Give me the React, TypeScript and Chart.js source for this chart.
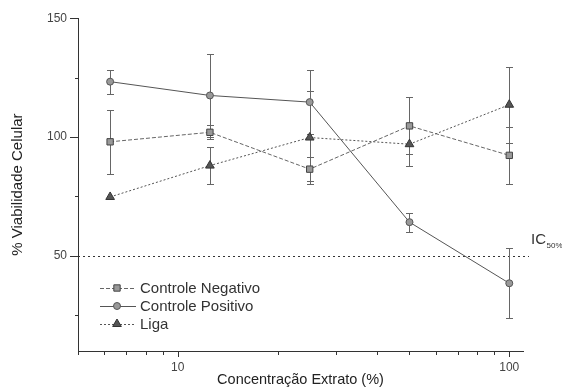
import React, { useEffect, useRef } from "react";
import { Chart, registerables } from "chart.js";
import { drawPoint } from "chart.js/helpers";
Chart.register(...registerables);

const concentrations = [6.25, 12.5, 25, 50, 100];
const negativoValues = [98, 102, 86.5, 104.7, 92.3];
const negativoErrors = [13.5, 3, 5, 12, 12];
const positivoValues = [123.3, 117.5, 114.7, 64.2, 38.5];
const positivoErrors = [5, 17.5, 13.6, 4, 14.7];
const ligaValues = [74.8, 88, 99.8, 97, 113.6];
const ligaErrors = [0, 7.7, 19.5, 9, 16];
const seriesNames = ["Controle Negativo", "Controle Positivo", "Liga"];
const xTickValues = [5, 6, 7, 8, 9, 10, 20, 30, 40, 50, 60, 70, 80, 90, 100];
const xTickLabels = [10, 100];
const yTickValues = [25, 50, 75, 100, 125, 150];
const yTickLabels = [50, 100, 150];
const ic50Value = 50;

const FONT = "'Liberation Sans', Arial, sans-serif";

const toPoints = (vals: number[]) => vals.map((v, i) => ({ x: concentrations[i], y: v }));

const customPlugin = {
  id: "customDecor",
  beforeDatasetsDraw(chart: any) {
    const { ctx, chartArea, scales } = chart;
    const x = scales.x, y = scales.y;
    ctx.save();
    ctx.strokeStyle = "#333";
    ctx.lineWidth = 1;
    ctx.setLineDash([2, 3]);
    const yy = Math.round(y.getPixelForValue(ic50Value)) + 0.5;
    ctx.beginPath();
    ctx.moveTo(chartArea.left, yy);
    ctx.lineTo(chartArea.right + 6, yy);
    ctx.stroke();
    ctx.setLineDash([]);
    chart.data.datasets.forEach((ds: any) => {
      const errs: number[] = ds.errors;
      ds.data.forEach((p: any, j: number) => {
        const e = errs[j];
        if (!e) return;
        const px = Math.round(x.getPixelForValue(p.x)) + 0.5;
        const top = Math.round(y.getPixelForValue(p.y + e)) + 0.5;
        const bot = Math.round(y.getPixelForValue(p.y - e)) + 0.5;
        ctx.strokeStyle = "#666";
        ctx.lineWidth = 1;
        ctx.beginPath();
        ctx.moveTo(px, top);
        ctx.lineTo(px, bot);
        ctx.moveTo(px - 3.5, top);
        ctx.lineTo(px + 3.5, top);
        ctx.moveTo(px - 3.5, bot);
        ctx.lineTo(px + 3.5, bot);
        ctx.stroke();
      });
    });
    ctx.restore();
  },
  afterDraw(chart: any) {
    const { ctx, chartArea, scales } = chart;
    const x = scales.x, y = scales.y;
    ctx.save();
    ctx.strokeStyle = "#333";
    ctx.lineWidth = 1;
    ctx.beginPath();
    xTickValues.forEach((v) => {
      const px = Math.round(x.getPixelForValue(v)) + 0.5;
      const len = xTickLabels.includes(v) ? 6 : 4;
      ctx.moveTo(px, chartArea.bottom);
      ctx.lineTo(px, chartArea.bottom + len);
    });
    yTickValues.forEach((v) => {
      const py = Math.round(y.getPixelForValue(v)) + 0.5;
      const len = yTickLabels.includes(v) ? 8 : 3;
      ctx.moveTo(chartArea.left, py);
      ctx.lineTo(chartArea.left - len, py);
    });
    ctx.stroke();

    // legend
    const lx = chartArea.left + 22;
    const ly0 = chartArea.bottom - 63;
    chart.data.datasets.forEach((ds: any, i: number) => {
      const ly = ly0 + i * 18;
      ctx.strokeStyle = ds.borderColor;
      ctx.lineWidth = 1;
      ctx.setLineDash(ds.borderDash || []);
      ctx.beginPath();
      ctx.moveTo(lx, ly + 0.5);
      ctx.lineTo(lx + 36, ly + 0.5);
      ctx.stroke();
      ctx.setLineDash([]);
      ctx.fillStyle = ds.pointBackgroundColor;
      ctx.strokeStyle = ds.pointBorderColor;
      ctx.lineWidth = 1;
      drawPoint(ctx, { pointStyle: ds.pointStyle, radius: ds.pointRadius, borderWidth: 1, rotation: 0 } as any, lx + 17, ly);
      ctx.fillStyle = "#333";
      ctx.font = `15px ${FONT}`;
      ctx.textAlign = "left";
      ctx.textBaseline = "middle";
      ctx.fillText(ds.label, lx + 40, ly + 1);
    });

    // IC50 label
    const icY = y.getPixelForValue(ic50Value);
    const icX = chartArea.right + 8;
    ctx.fillStyle = "#333";
    ctx.font = `15px ${FONT}`;
    ctx.textAlign = "left";
    ctx.textBaseline = "middle";
    ctx.fillText("IC", icX, icY - 16);
    const w = ctx.measureText("IC").width;
    ctx.font = `8px ${FONT}`;
    ctx.fillText("50%", icX + w + 0.5, icY - 10);
    ctx.restore();
  },
};

export default function App() {
  const canvasRef = useRef<HTMLCanvasElement | null>(null);

  useEffect(() => {
    if (!canvasRef.current) return;
    const chart = new Chart(canvasRef.current, {
      type: "line",
      data: {
        datasets: [
          {
            label: seriesNames[0],
            data: toPoints(negativoValues),
            errors: negativoErrors,
            borderColor: "#666",
            borderWidth: 1,
            borderDash: [4, 2],
            pointStyle: "rect",
            pointRadius: 4.5,
            pointBackgroundColor: "#999",
            pointBorderColor: "#444",
            pointBorderWidth: 1,
          } as any,
          {
            label: seriesNames[1],
            data: toPoints(positivoValues),
            errors: positivoErrors,
            borderColor: "#555",
            borderWidth: 1,
            pointStyle: "circle",
            pointRadius: 3.5,
            pointBackgroundColor: "#999",
            pointBorderColor: "#555",
            pointBorderWidth: 1,
          } as any,
          {
            label: seriesNames[2],
            data: toPoints(ligaValues),
            errors: ligaErrors,
            borderColor: "#555",
            borderWidth: 1,
            borderDash: [2, 2],
            pointStyle: "triangle",
            pointRadius: 5,
            pointBackgroundColor: "#555",
            pointBorderColor: "#333",
            pointBorderWidth: 1,
          } as any,
        ],
      },
      options: {
        responsive: false,
        animation: false,
        devicePixelRatio: 1,
        layout: { padding: { top: 17, right: 39, left: 0, bottom: 0 } },
        plugins: { legend: { display: false }, tooltip: { enabled: false } },
        scales: {
          x: {
            type: "logarithmic",
            min: 5,
            max: 110,
            afterBuildTicks: (scale: any) => {
              scale.ticks = xTickValues.map((v) => ({ value: v, major: xTickLabels.includes(v) }));
            },
            afterFit: (scale: any) => {
              scale.height = 37;
            },
            grid: { display: false, drawTicks: false },
            border: { display: true, color: "#333", width: 1 },
            ticks: {
              autoSkip: false,
              maxRotation: 0,
              padding: 9,
              color: "#444",
              font: { family: FONT, size: 12 },
              callback: (v: any) => (xTickLabels.includes(Number(v)) ? String(v) : ""),
            },
            title: {
              display: true,
              text: "Concentração Extrato (%)",
              color: "#222",
              font: { family: FONT, size: 14.5 },
              padding: { top: 0, bottom: -1 },
            },
          },
          y: {
            type: "linear",
            min: 10,
            max: 150,
            afterBuildTicks: (scale: any) => {
              scale.ticks = yTickValues.map((v) => ({ value: v }));
            },
            afterFit: (scale: any) => {
              scale.width = 78;
            },
            grid: { display: false, drawTicks: false },
            border: { display: true, color: "#333", width: 1 },
            ticks: {
              autoSkip: false,
              padding: 11,
              color: "#444",
              font: { family: FONT, size: 12 },
              callback: (v: any) => (yTickLabels.includes(Number(v)) ? String(v) : ""),
            },
            title: {
              display: true,
              text: "% Viabilidade Celular",
              color: "#222",
              font: { family: FONT, size: 15 },
              padding: { top: 9, bottom: 0 },
            },
          },
        },
      } as any,
      plugins: [customPlugin],
    });
    return () => chart.destroy();
  }, []);

  return (
    <div style={{ position: "absolute", left: 0, top: 0, width: 562, height: 388, background: "#fff" }}>
      <canvas ref={canvasRef} width={562} height={388} />
    </div>
  );
}
